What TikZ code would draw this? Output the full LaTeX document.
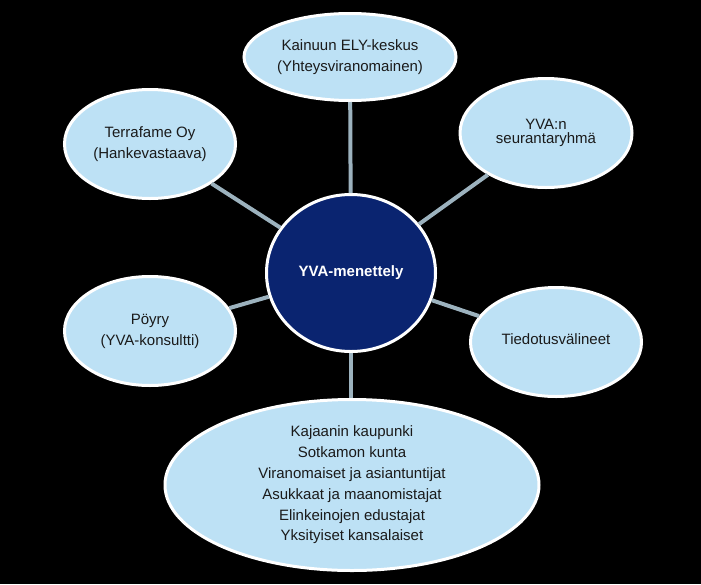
\documentclass[tikz,border=0pt]{standalone}
\usepackage{fontspec}
\setmainfont{Liberation Sans}
\usetikzlibrary{shapes.geometric}
\definecolor{ellfill}{HTML}{BDE1F5}
\definecolor{hubnavy}{HTML}{0A2470}
\definecolor{linkc}{HTML}{9CB2BE}
\definecolor{txtc}{HTML}{1A1A1A}
\begin{document}
\begin{tikzpicture}[x=1pt,y=-1pt,
  party/.style={ellipse, fill=ellfill, draw=white, line width=3pt, inner sep=0pt,
    align=center, text=txtc, font=\fontsize{15}{21}\selectfont},
  hub/.style={ellipse, fill=hubnavy, draw=white, line width=3pt, inner sep=0pt,
    text=white, font=\fontsize{15}{18}\selectfont\bfseries},
  link/.style={draw=linkc, line width=4pt}]
\fill[black] (0,0) rectangle (701,584);
\node[hub, minimum width=169pt, minimum height=157pt] (c) at (351,273) {YVA-menettely};
\node[party, minimum width=212pt, minimum height=87pt] (ely) at (350,57)
  {Kainuun ELY-keskus\\(Yhteysviranomainen)};
\node[party, minimum width=171pt, minimum height=109pt] (terra) at (150,144)
  {Terrafame Oy\\(Hankevastaava)};
\node[party, minimum width=172pt, minimum height=109pt, font=\fontsize{15}{14}\selectfont] (seur) at (546,133)
  {YVA:n\\seurantaryhmä};
\node[party, minimum width=171pt, minimum height=109pt] (poyry) at (150,331)
  {Pöyry\\(YVA-konsultti)};
\node[party, minimum width=171pt, minimum height=109pt] (tied) at (556,342)
  {\raisebox{5pt}{Tiedotusvälineet}};
\node[party, minimum width=374pt, minimum height=171pt, font=\fontsize{15}{20.8}\selectfont] (muut) at (352,485)
  {Kajaanin kaupunki\\Sotkamon kunta\\Viranomaiset ja asiantuntijat\\Asukkaat ja maanomistajat\\Elinkeinojen edustajat\\Yksityiset kansalaiset};
\draw[link] (c) -- (ely);
\draw[link] (c) -- (terra);
\draw[link] (c) -- (seur);
\draw[link] (c) -- (poyry);
\draw[link] (c) -- (tied);
\draw[link] (c.south) -- (c.south |- muut.north);
\end{tikzpicture}
\end{document}
